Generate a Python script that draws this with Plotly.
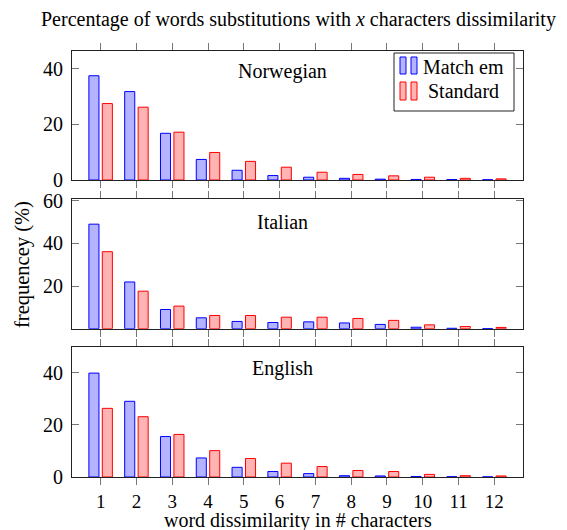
import plotly.graph_objects as go

categories = list(range(1, 13))
tick_labels = [str(c) for c in categories]
series_names = ["Match em", "Standard"]
languages = ["Norwegian", "Italian", "English"]

norwegian_match = [37.5, 31.8, 16.8, 7.4, 3.5, 1.6, 1.0, 0.6, 0.3, 0.2, 0.15, 0.1]
norwegian_standard = [27.5, 26.2, 17.2, 9.9, 6.7, 4.6, 2.8, 2.0, 1.5, 1.0, 0.6, 0.4]
italian_match = [49.0, 21.9, 9.0, 5.1, 3.4, 2.9, 3.2, 2.7, 2.0, 0.7, 0.2, 0.1]
italian_standard = [36.1, 17.6, 10.6, 6.2, 6.2, 5.4, 5.4, 4.8, 3.9, 1.8, 1.0, 0.6]
english_match = [39.8, 29.0, 15.5, 7.3, 3.7, 2.1, 1.3, 0.5, 0.4, 0.2, 0.1, 0.05]
english_standard = [26.3, 23.1, 16.3, 10.1, 7.1, 5.3, 4.0, 2.5, 2.1, 1.0, 0.5, 0.4]

PAGE_W, PAGE_H = 567, 530
OFF = 8  # page body margin
W, H = PAGE_W - OFF, PAGE_H - OFF
L, R, T, B = 72, 523, 51, 477  # plot area in page pixels


def xp(px):
    return (px - L) / (R - L)


def yp(py):
    return (B - py) / (B - T)


FONT = "Liberation Serif, Times New Roman, serif"
BLUE_FILL = "rgb(179,179,255)"
RED_FILL = "rgb(255,179,179)"
BLUE = "rgb(0,0,255)"
RED = "rgb(255,0,0)"

panels = [
    (norwegian_match, norwegian_standard, (180, 51), 46.4, [0, 20, 40], ["0", "20", "40"]),
    (italian_match, italian_standard, (328.7, 199), 60.8, [0, 20, 40, 60], ["", "20", "40", "60"]),
    (english_match, english_standard, (477, 347), 49.8, [0, 20, 40], ["0", "20", "40"]),
]

fig = go.Figure()
layout = {}
for i, (m, s, (pb, pt), ymax, tv, tt) in enumerate(panels):
    n = "" if i == 0 else str(i + 1)
    xa, ya = "x" + n, "y" + n
    fig.add_trace(go.Bar(x=categories, y=m, name=series_names[0], xaxis=xa, yaxis=ya,
                         marker=dict(color=BLUE_FILL, line=dict(color=BLUE, width=1)),
                         showlegend=False))
    fig.add_trace(go.Bar(x=categories, y=s, name=series_names[1], xaxis=xa, yaxis=ya,
                         marker=dict(color=RED_FILL, line=dict(color=RED, width=1)),
                         showlegend=False))
    layout["xaxis" + n] = dict(
        domain=[0, 1], anchor=ya, range=[0.2, 12.8], tickvals=categories,
        ticktext=tick_labels, showticklabels=(i == 2), ticks="outside", ticklen=7,
        tickcolor="#777", tickwidth=1, showline=True, linecolor="#222", linewidth=1,
        mirror="ticks", showgrid=False, zeroline=False,
        tickfont=dict(family=FONT, size=19, color="black"),
    )
    layout["yaxis" + n] = dict(
        domain=[yp(pb), yp(pt)], anchor=xa, range=[0, ymax], tickvals=tv, ticktext=tt,
        ticks="inside", ticklen=7, tickcolor="#777", tickwidth=1, showline=True,
        linecolor="#222", linewidth=1, mirror="ticks", showgrid=False, zeroline=False,
        tickfont=dict(family=FONT, size=20, color="black"), ticklabelstandoff=4,
    )

annotations = [
    dict(text="Percentage of words substitutions with <i>x</i> characters dissimilarity",
         x=xp(298), y=yp(20), xref="paper", yref="paper", showarrow=False,
         xanchor="center", yanchor="middle", font=dict(family=FONT, size=20, color="black")),
    dict(text="word dissimilarity in # characters", x=xp(297.5), y=yp(520),
         xref="paper", yref="paper", showarrow=False, xanchor="center", yanchor="middle",
         font=dict(family=FONT, size=20, color="black")),
    dict(text="frequencey (%)", x=xp(22), y=yp(265), xref="paper", yref="paper",
         showarrow=False, textangle=-90, xanchor="center", yanchor="middle",
         font=dict(family=FONT, size=20.5, color="black")),
]
for name, py in zip(languages, [71, 222, 368]):
    annotations.append(dict(text=name, x=xp(282), y=yp(py), xref="paper", yref="paper",
                            showarrow=False, xanchor="center", yanchor="middle",
                            font=dict(family=FONT, size=20, color="black")))
for name, py in zip(series_names, [67, 91]):
    annotations.append(dict(text=name, x=xp(463), y=yp(py), xref="paper", yref="paper",
                            showarrow=False, xanchor="center", yanchor="middle",
                            font=dict(family=FONT, size=20, color="black")))

shapes = [dict(type="rect", xref="paper", yref="paper", x0=xp(394), x1=xp(514),
               y0=yp(111), y1=yp(53), line=dict(color="#222", width=1), fillcolor="white",
               layer="above")]
for (fill, line), (y0, y1) in zip([(BLUE_FILL, BLUE), (RED_FILL, RED)], [(57, 74), (82, 100)]):
    for x0, x1 in [(400, 406), (411, 417)]:
        shapes.append(dict(type="rect", xref="paper", yref="paper", x0=xp(x0), x1=xp(x1),
                           y0=yp(y1), y1=yp(y0), line=dict(color=line, width=1),
                           fillcolor=fill, layer="above"))

fig.update_layout(
    width=W, height=H,
    margin=dict(l=L - OFF, r=PAGE_W - R, t=T - OFF, b=PAGE_H - B, pad=0),
    plot_bgcolor="white", paper_bgcolor="white", barmode="group",
    bargap=0.25, bargroupgap=0.25, annotations=annotations, shapes=shapes,
    **layout,
)
fig.write_html("out.html")
